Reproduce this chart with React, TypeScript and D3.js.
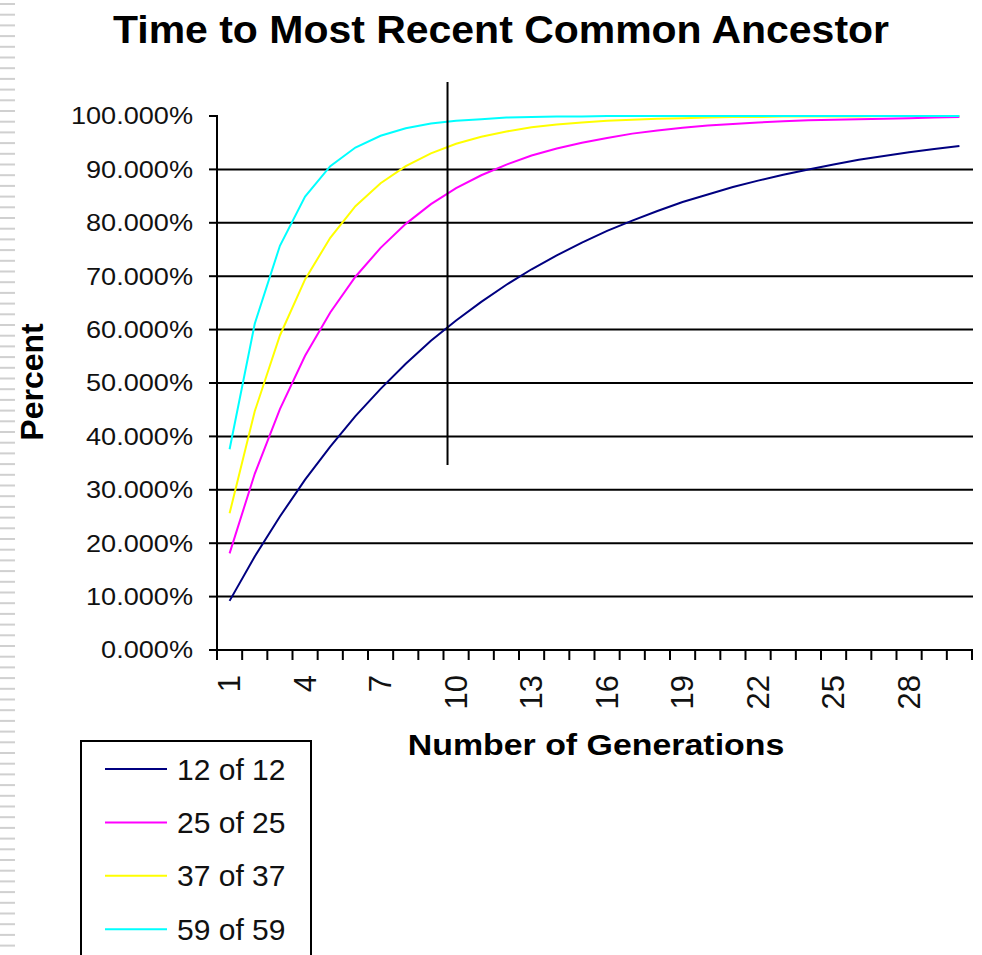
// App.tsx - Time to Most Recent Common Ancestor line chart

import React, { useRef, useEffect } from 'react';
import * as d3 from 'd3';

const generations: number[] = d3.range(1, 31);

const xTickLabels: number[] = [1, 4, 7, 10, 13, 16, 19, 22, 25, 28];

const yTicks: number[] = [0, 0.1, 0.2, 0.3, 0.4, 0.5, 0.6, 0.7, 0.8, 0.9, 1.0];

const seriesNames: string[] = ['12 of 12', '25 of 25', '37 of 37', '59 of 59'];

const seriesColors: string[] = ['#000080', '#ff00ff', '#ffff00', '#00ffff'];

// percent values, generation 1..30
const match12: number[] = [
    9.2, 17.5, 25.0, 31.9, 38.1, 43.8, 48.9, 53.6, 57.9, 61.7,
    65.2, 68.4, 71.3, 73.9, 76.3, 78.5, 80.4, 82.2, 83.9, 85.3,
    86.7, 87.9, 89.0, 90.0, 90.9, 91.8, 92.5, 93.2, 93.8, 94.4,
];

const match25: number[] = [
    18.1, 33.0, 45.1, 55.1, 63.2, 69.9, 75.3, 79.8, 83.5, 86.5,
    88.9, 90.9, 92.6, 93.9, 95.0, 95.9, 96.7, 97.3, 97.8, 98.2,
    98.5, 98.8, 99.0, 99.2, 99.3, 99.4, 99.5, 99.6, 99.7, 99.8,
];

const match37: number[] = [
    25.6, 44.7, 58.9, 69.4, 77.2, 83.1, 87.4, 90.6, 93.0, 94.8,
    96.1, 97.1, 97.9, 98.4, 98.8, 99.1, 99.3, 99.5, 99.6, 99.7,
    99.8, 99.8, 99.9, 99.9, 99.9, 99.9, 100.0, 100.0, 100.0, 100.0,
];

const match59: number[] = [
    37.6, 61.1, 75.7, 84.9, 90.6, 94.1, 96.3, 97.7, 98.6, 99.1,
    99.4, 99.7, 99.8, 99.9, 99.9, 100.0, 100.0, 100.0, 100.0, 100.0,
    100.0, 100.0, 100.0, 100.0, 100.0, 100.0, 100.0, 100.0, 100.0, 100.0,
];

// generation where the marker line was drawn
const markerGeneration = 9.66;

const FONT = '"Liberation Sans", Arial, Helvetica, sans-serif';

const App: React.FC = () => {
    const svgRef = useRef<SVGSVGElement | null>(null);

    useEffect(() => {
        const width = 982;
        const height = 955;

        const svg = d3.select(svgRef.current);
        svg.selectAll('*').remove();
        svg.attr('width', width).attr('height', height);

        svg.append('rect').attr('width', width).attr('height', height).attr('fill', '#ffffff');

        // slide border stripes on the left edge
        svg.append('g')
            .selectAll('rect')
            .data(d3.range(0, height, 10.7))
            .enter()
            .append('rect')
            .attr('x', 0)
            .attr('y', d => d + 3)
            .attr('width', 15)
            .attr('height', 2)
            .attr('fill', '#d0d0d0');

        const plot = { left: 217, right: 972, top: 116, bottom: 650 };

        const xScale = d3.scalePoint<number>()
            .domain(generations)
            .range([plot.left, plot.right])
            .padding(0.5);
        const step = xScale.step();

        const xPos = (g: number) => (xScale(1) as number) + (g - 1) * step;

        const yScale = d3.scaleLinear().domain([0, 1]).range([plot.bottom, plot.top]);

        // title
        svg.append('text')
            .attr('x', 501)
            .attr('y', 43)
            .attr('text-anchor', 'middle')
            .attr('font-family', FONT)
            .attr('font-weight', 'bold')
            .attr('font-size', 38)
            .attr('textLength', 776)
            .attr('lengthAdjust', 'spacingAndGlyphs')
            .text('Time to Most Recent Common Ancestor');

        // horizontal gridlines
        svg.append('g')
            .selectAll('line')
            .data(yTicks.filter(t => t > 0 && t < 1))
            .enter()
            .append('line')
            .attr('x1', plot.left)
            .attr('x2', plot.right + 1)
            .attr('y1', d => yScale(d))
            .attr('y2', d => yScale(d))
            .attr('stroke', '#000')
            .attr('stroke-width', 2);

        // y axis
        const yAxisG = svg.append('g');
        yAxisG.append('line')
            .attr('x1', plot.left).attr('x2', plot.left)
            .attr('y1', plot.top - 1).attr('y2', plot.bottom + 1)
            .attr('stroke', '#000').attr('stroke-width', 2);
        yAxisG.selectAll('line.tick')
            .data(yTicks)
            .enter()
            .append('line')
            .attr('class', 'tick')
            .attr('x1', plot.left - 8).attr('x2', plot.left)
            .attr('y1', d => yScale(d)).attr('y2', d => yScale(d))
            .attr('stroke', '#000').attr('stroke-width', 2);
        yAxisG.selectAll('text')
            .data(yTicks)
            .enter()
            .append('text')
            .attr('transform', d => `translate(193,${yScale(d)}) scale(1.13,1)`)
            .attr('dy', '0.35em')
            .attr('text-anchor', 'end')
            .attr('font-family', FONT)
            .attr('font-size', 24)
            .attr('fill', '#111')
            .text(d => d3.format('.3%')(d));

        // x axis
        const xAxisG = svg.append('g');
        xAxisG.append('line')
            .attr('x1', plot.left - 8).attr('x2', plot.right + 1)
            .attr('y1', plot.bottom).attr('y2', plot.bottom)
            .attr('stroke', '#000').attr('stroke-width', 2);
        xAxisG.selectAll('line.tick')
            .data(d3.range(0, generations.length + 1))
            .enter()
            .append('line')
            .attr('class', 'tick')
            .attr('x1', i => plot.left + i * step).attr('x2', i => plot.left + i * step)
            .attr('y1', plot.bottom).attr('y2', plot.bottom + 10)
            .attr('stroke', '#000').attr('stroke-width', 2);
        xAxisG.selectAll('text')
            .data(xTickLabels)
            .enter()
            .append('text')
            .attr('transform', d => `translate(${xScale(d)},675) rotate(-90)`)
            .attr('dy', '0.35em')
            .attr('text-anchor', 'end')
            .attr('font-family', FONT)
            .attr('font-size', 31)
            .attr('fill', '#111')
            .text(d => String(d));

        // axis titles
        svg.append('text')
            .attr('transform', 'translate(596,755) scale(1.13,1)')
            .attr('text-anchor', 'middle')
            .attr('font-family', FONT)
            .attr('font-weight', 'bold')
            .attr('font-size', 30)
            .text('Number of Generations');

        svg.append('text')
            .attr('transform', 'translate(43,382) rotate(-90)')
            .attr('text-anchor', 'middle')
            .attr('font-family', FONT)
            .attr('font-weight', 'bold')
            .attr('font-size', 32)
            .text('Percent');

        // series lines
        const allSeries = [match12, match25, match37, match59];
        const line = d3.line<number>()
            .x((_, i) => xScale(generations[i]) as number)
            .y(d => yScale(d / 100));

        allSeries.forEach((values, i) => {
            svg.append('path')
                .datum(values)
                .attr('d', line)
                .attr('fill', 'none')
                .attr('stroke', seriesColors[i])
                .attr('stroke-width', 2);
        });

        // marker line
        svg.append('line')
            .attr('x1', xPos(markerGeneration)).attr('x2', xPos(markerGeneration))
            .attr('y1', 82).attr('y2', 465)
            .attr('stroke', '#000').attr('stroke-width', 2);

        // legend
        const legend = svg.append('g');
        legend.append('rect')
            .attr('x', 81).attr('y', 741)
            .attr('width', 230).attr('height', 260)
            .attr('fill', '#fff')
            .attr('stroke', '#000')
            .attr('stroke-width', 2);
        seriesNames.forEach((name, i) => {
            const ly = 769 + i * 53.4;
            legend.append('line')
                .attr('x1', 105).attr('x2', 167)
                .attr('y1', ly).attr('y2', ly)
                .attr('stroke', seriesColors[i])
                .attr('stroke-width', 2);
            legend.append('text')
                .attr('x', 177)
                .attr('y', ly)
                .attr('dy', '0.35em')
                .attr('font-family', FONT)
                .attr('font-size', 30)
                .attr('fill', '#111')
                .text(name);
        });
    }, []);

    return (
        <div style={{ position: 'absolute', left: 0, top: 0 }}>
            <svg ref={svgRef} style={{ display: 'block' }}></svg>
        </div>
    );
};

export default App;
